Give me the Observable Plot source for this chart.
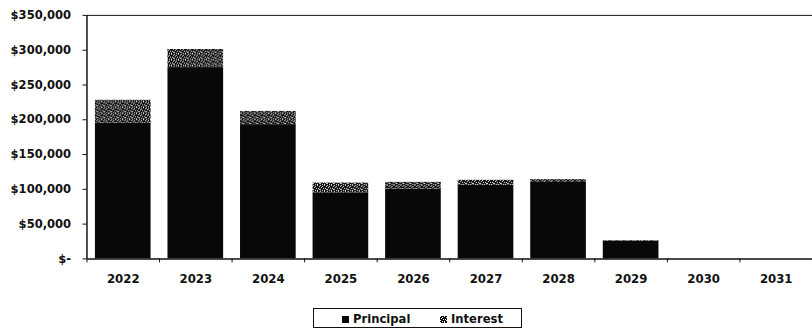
<!DOCTYPE html>
<html>
<head>
<meta charset="utf-8">
<script src="https://cdn.jsdelivr.net/npm/d3@7"></script>
<script src="https://cdn.jsdelivr.net/npm/@observablehq/plot@0.6"></script>
<style>
  html, body { margin: 0; padding: 0; background: #fff; overflow: hidden; }
  #wrap { position: relative; width: 812px; height: 333px; font-family: "DejaVu Sans", sans-serif; }
  #chart svg { display: block; overflow: visible; }
  #legend {
    position: absolute; left: 313px; top: 308px; width: 209px; height: 20px;
    box-sizing: border-box; border: 1px solid #111;
    font: bold 11.6px "DejaVu Sans", sans-serif; color: #111;
  }
  #legend .item { position: absolute; top: 3px; display: flex; align-items: center; gap: 4px; }
  #legend svg { display: block; }
</style>
</head>
<body>
<div id="wrap">
  <div id="chart"></div>
  <div id="legend"></div>
</div>
<script>
// Annual debt service by year, split into principal and interest
const years = [2022, 2023, 2024, 2025, 2026, 2027, 2028, 2029, 2030, 2031];
const principal = [195000, 275000, 193000, 95000, 100000, 106000, 110000, 25000, 0, 0];
const interest = [33000, 26000, 19000, 14000, 10000, 7000, 4000, 1000, 0, 0];
const seriesNames = ["Principal", "Interest"];
const yTicks = [0, 50000, 100000, 150000, 200000, 250000, 300000, 350000];

const seriesFills = ["#080808", "url(#speckle)"];

// Long-format rows for stacking: principal first so it sits at the bottom
const rows = [];
years.forEach((year, i) => {
  rows.push({year, series: seriesNames[0], value: principal[i]});
  rows.push({year, series: seriesNames[1], value: interest[i]});
});

// Category boundaries, where the small x-axis ticks sit
const boundaries = years.map(y => y - 0.5);

const fmtMoney = v => v === 0 ? "$-" : "$" + d3.format(",")(v);

const chart = Plot.plot({
  width: 817,
  height: 300,
  marginLeft: 87,
  marginRight: 0,
  marginTop: 15,
  marginBottom: 40,
  style: {fontFamily: "DejaVu Sans, sans-serif", fontSize: "11.6px", fontWeight: "bold", color: "#111", background: "#fff"},
  x: {domain: [years[0] - 0.5, years[years.length - 1] + 0.5], axis: null},
  y: {domain: [0, 350000], axis: null},
  color: {domain: seriesNames, range: seriesFills},
  marks: [
    Plot.rectY(rows, {
      x1: d => d.year - 0.5,
      x2: d => d.year + 0.5,
      y: "value",
      fill: "series",
      insetLeft: 8.5,
      insetRight: 8.5
    }),
    // plot-area frame: top edge, left axis line, baseline
    Plot.ruleY([350000], {stroke: "#111", strokeWidth: 1}),
    Plot.ruleY([0], {stroke: "#111", strokeWidth: 1.5}),
    Plot.ruleX([years[0] - 0.5], {stroke: "#111", strokeWidth: 1.5}),
    Plot.axisY(yTicks, {
      tickSize: 4,
      tickPadding: 12,
      tickFormat: fmtMoney,
      label: null,
      fontSize: 11.6,
      fontWeight: "bold",
      stroke: "#111"
    }),
    Plot.axisX(boundaries, {tickSize: 4, tickFormat: () => "", label: null, stroke: "#111"}),
    Plot.axisX(years, {
      tickSize: 0,
      tickPadding: 16,
      tickFormat: d => String(d),
      label: null,
      fontSize: 11.8,
      fontWeight: "bold"
    })
  ]
});

// Speckled fill used for the interest segments
const svg = d3.select(chart);
const defs = svg.insert("defs", ":first-child");
const pat = defs.append("pattern")
  .attr("id", "speckle")
  .attr("patternUnits", "userSpaceOnUse")
  .attr("width", 7).attr("height", 6);
pat.append("rect").attr("width", 7).attr("height", 6).attr("fill", "#0c0c0c");
const dots = [[0,0],[4,0],[2,1],[6,1],[1,2],[5,3],[3,3],[0,4],[4,5],[6,4],[2,5]];
dots.forEach(([x, y]) => pat.append("rect").attr("x", x).attr("y", y).attr("width", 1).attr("height", 1).attr("fill", "#f2f2f2"));

document.getElementById("chart").appendChild(chart);

// Legend below the chart
const legend = d3.select("#legend");
const legendLeft = [28, 126];
seriesNames.forEach((name, i) => {
  const item = legend.append("div").attr("class", "item").style("left", legendLeft[i] + "px");
  const sw = item.append("svg").attr("width", 7).attr("height", 7);
  sw.append("rect").attr("width", 7).attr("height", 7).attr("fill", seriesFills[i]);
  item.append("span").text(name);
});
</script>
</body>
</html>
